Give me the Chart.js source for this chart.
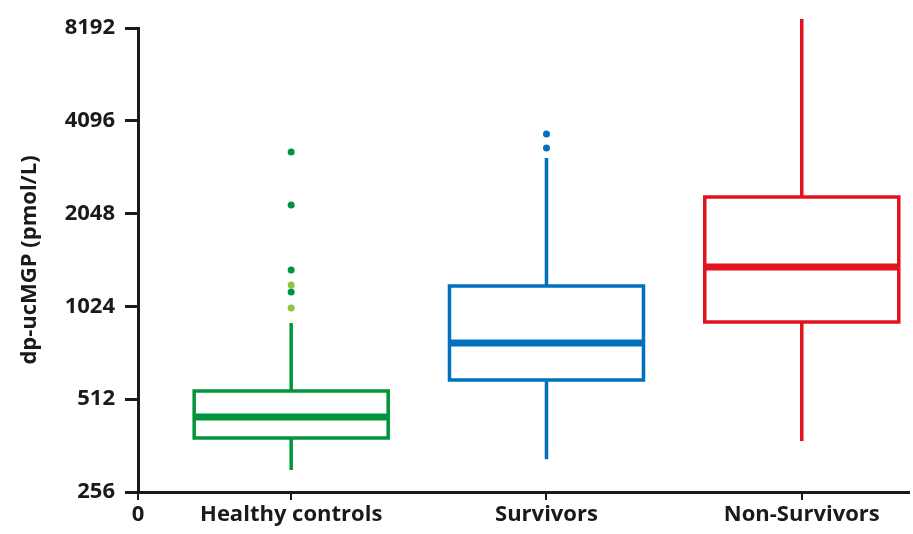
<!DOCTYPE html>
<html lang="en">
<head>
<meta charset="UTF-8">
<title>dp-ucMGP</title>
<script src="https://cdn.jsdelivr.net/npm/chart.js"></script>
<style>
    html, body { margin: 0; padding: 0; background: #fff; }
    .chart-container { position: relative; width: 913px; height: 534px; }
</style>
</head>
<body>
<div class="chart-container"><canvas id="boxChart"></canvas></div>
<script>
// values (pmol/L)
const groups = ['Healthy controls', 'Survivors', 'Non-Survivors'];
const whiskerLow = [302, 327, 375];
const q1 = [383, 591, 911];
const median = [448, 779, 1374];
const q3 = [544, 1193, 2318];
const whiskerHigh = [904, 3103, 8760];
const outliers = [[3244, 2184, 1344, 1140], [3712, 3343], []];
const outliersLight = [[1201, 1012], [], []];
const yTicks = [256, 512, 1024, 2048, 4096, 8192];

const colors = ['#00953b', '#0071bc', '#e2131f'];
const lightGreen = '#8cc63f';
const ink = '#1a1a1a';
const boxHalf = 0.38;
const xMin = 0.4;
const font = { family: 'Open Sans', size: 22, weight: 'bold' };

const datasets = [];
groups.forEach((g, i) => {
    const x = i + 1;
    const base = {
        type: 'line', showLine: true, borderColor: colors[i], pointRadius: 0,
        fill: false, clip: false, tension: 0
    };
    // box
    datasets.push({ ...base, borderWidth: 3.5, borderJoinStyle: 'miter', borderCapStyle: 'square', data: [
        { x: x - boxHalf, y: q1[i] }, { x: x + boxHalf, y: q1[i] },
        { x: x + boxHalf, y: q3[i] }, { x: x - boxHalf, y: q3[i] },
        { x: x - boxHalf, y: q1[i] }
    ] });
    // whiskers
    datasets.push({ ...base, borderWidth: 3.5, data: [{ x: x, y: q3[i] }, { x: x, y: whiskerHigh[i] }] });
    datasets.push({ ...base, borderWidth: 3.5, data: [{ x: x, y: q1[i] }, { x: x, y: whiskerLow[i] }] });
    // median
    datasets.push({ ...base, borderWidth: 7, data: [{ x: x - boxHalf, y: median[i] }, { x: x + boxHalf, y: median[i] }] });
    // outliers
    datasets.push({ type: 'scatter', data: outliers[i].map(v => ({ x: x, y: v })),
        pointRadius: 3.5, pointBackgroundColor: colors[i], pointBorderWidth: 0, clip: false });
    datasets.push({ type: 'scatter', data: outliersLight[i].map(v => ({ x: x, y: v })),
        pointRadius: 3.5, pointBackgroundColor: lightGreen, pointBorderWidth: 0, clip: false });
});

new Chart(document.getElementById('boxChart'), {
    type: 'scatter',
    data: { datasets: datasets },
    options: {
        responsive: true,
        maintainAspectRatio: false,
        animation: false,
        layout: { padding: { top: 28, right: 3, left: 0, bottom: 0 } },
        plugins: { legend: { display: false }, tooltip: { enabled: false } },
        scales: {
            x: {
                type: 'linear', min: xMin, max: 3.42,
                afterBuildTicks: s => { s.ticks = [{ value: xMin }, { value: 1 }, { value: 2 }, { value: 3 }]; },
                afterFit: s => { s.height = 42; },
                ticks: {
                    callback: v => (v === xMin ? '0' : groups[v - 1]),
                    color: ink, font: font, padding: 2, maxRotation: 0, autoSkip: false
                },
                grid: { drawOnChartArea: false, drawTicks: true, tickLength: 8, color: ink, lineWidth: 2 },
                border: { color: ink, width: 3 }
            },
            y: {
                type: 'logarithmic', min: 256, max: 8192,
                afterBuildTicks: s => { s.ticks = yTicks.map(v => ({ value: v })); },
                afterFit: s => { s.width = 138; },
                ticks: { callback: v => String(v), color: ink, font: font, padding: 10 },
                grid: { drawOnChartArea: false, drawTicks: true, tickLength: 13, color: ink, lineWidth: 3 },
                border: { color: ink, width: 3 },
                title: {
                    display: true, text: 'dp-ucMGP (pmol/L)', color: ink, font: font,
                    padding: { top: 17, bottom: 0 }
                }
            }
        }
    }
});
</script>
</body>
</html>
